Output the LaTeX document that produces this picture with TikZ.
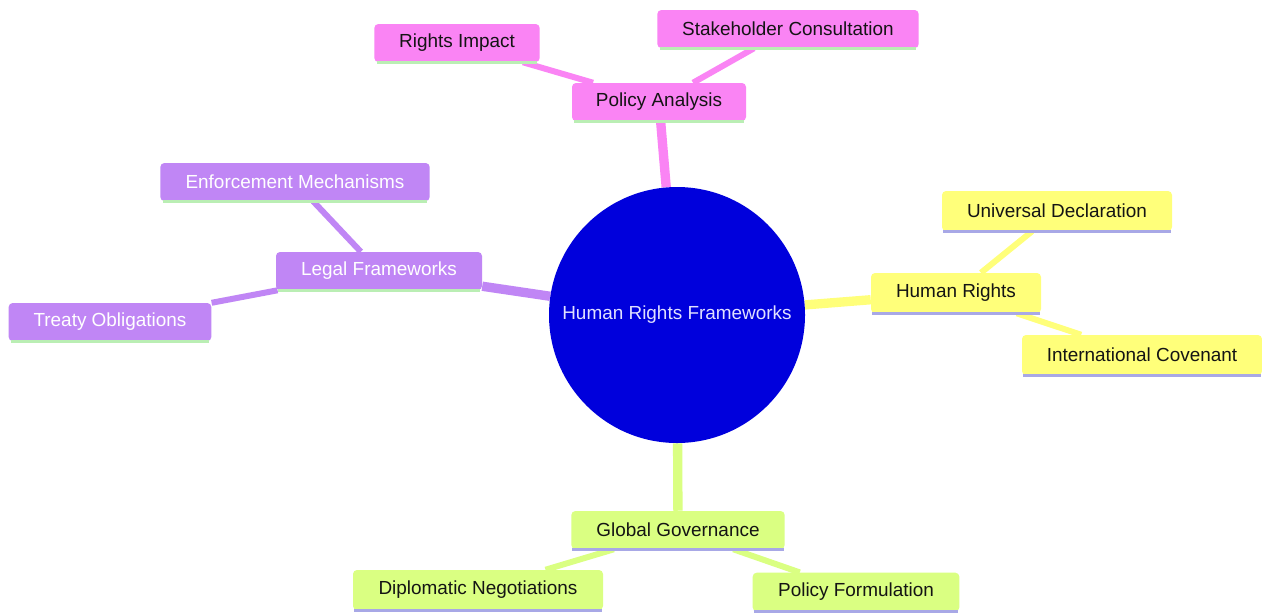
\documentclass[tikz,border=0pt]{standalone}
\usepackage{fontspec}
\setmainfont{Liberation Sans}
\usetikzlibrary{backgrounds}
\definecolor{cpink}{RGB}{250,132,244}
\definecolor{cpurple}{RGB}{192,134,245}
\definecolor{cyellow}{RGB}{255,255,122}
\definecolor{clime}{RGB}{218,255,130}
\definecolor{cblue}{RGB}{0,0,220}
\definecolor{cgreenline}{RGB}{186,238,180}
\definecolor{clavline}{RGB}{168,168,230}
\definecolor{ctext}{RGB}{20,20,20}
\tikzset{
  mbox/.style={rectangle, rounded corners=3pt, inner sep=0pt, font=\fontsize{14.2}{16}\selectfont, text=ctext},
  pinkbox/.style={mbox, fill=cpink},
  purplebox/.style={mbox, fill=cpurple, text=white},
  yellowbox/.style={mbox, fill=cyellow},
  limebox/.style={mbox, fill=clime},
  bline/.style={line width=2pt},
  edgeA/.style={line width=7pt},
  edgeB/.style={line width=4.5pt},
}
\begin{document}
\begin{tikzpicture}[x=0.75pt,y=-0.75pt]
\useasboundingbox (0,0) rectangle (1262,612);
% root
\node[circle, fill=cblue, minimum size=192pt, inner sep=0pt, text={rgb,255:red,225;green,225;blue,255}, font=\fontsize{14.2}{16}\selectfont] (root) at (677,315) {Human Rights Frameworks};
% pink
\node[pinkbox, minimum width=130.5pt, minimum height=28.5pt] (pa) at (659,102) {Policy Analysis};
\node[pinkbox, minimum width=124pt, minimum height=28.5pt] (ri) at (457,43) {Rights Impact};
\node[pinkbox, minimum width=196pt, minimum height=28.5pt] (sc) at (788,29) {Stakeholder Consultation};
% purple
\node[purplebox, minimum width=154.5pt, minimum height=28.5pt] (lf) at (379,271) {Legal Frameworks};
\node[purplebox, minimum width=202pt, minimum height=28.5pt] (em) at (295,182) {Enforcement Mechanisms};
\node[purplebox, minimum width=152pt, minimum height=28.5pt] (to) at (110,322) {Treaty Obligations};
% yellow
\node[yellowbox, minimum width=127.5pt, minimum height=30pt] (hr) at (956,293) {Human Rights};
\node[yellowbox, minimum width=172.5pt, minimum height=30pt] (ud) at (1057,211) {Universal Declaration};
\node[yellowbox, minimum width=180pt, minimum height=30pt] (ic) at (1142,355) {International Covenant};
% lime
\node[limebox, minimum width=160pt, minimum height=28.5pt] (gg) at (678,530) {Global Governance};
\node[limebox, minimum width=187.5pt, minimum height=30pt] (dn) at (478,590) {Diplomatic Negotiations};
\node[limebox, minimum width=155pt, minimum height=29pt] (pf) at (856,592) {Policy Formulation};
% bottom lines
\foreach \n in {pa,ri,sc,lf,em,to}{\draw[bline, cgreenline] ([xshift=2pt]\n.south west) -- ([xshift=-2pt]\n.south east);}
\foreach \n in {hr,ud,ic,gg,dn,pf}{\draw[bline, clavline] ([xshift=1pt]\n.south west) -- ([xshift=-1pt]\n.south east);}
\begin{pgfonlayer}{background}
\fill[white] (0,0) rectangle (1262,612);
\draw[edgeA, cpink] (root) -- (pa);
\draw[edgeB, cpink] (pa) -- (ri);
\draw[edgeB, cpink] (pa) -- (sc);
\draw[edgeA, cpurple] (root) -- (lf);
\draw[edgeB, cpurple] (lf) -- (em);
\draw[edgeB, cpurple] (lf) -- (to);
\draw[edgeA, cyellow] (root) -- (hr);
\draw[edgeB, cyellow] (hr) -- (ud);
\draw[edgeB, cyellow] (hr) -- (ic);
\draw[edgeA, clime] (root) -- (gg);
\draw[edgeB, clime] (gg) -- (dn);
\draw[edgeB, clime] (gg) -- (pf);
\end{pgfonlayer}
\end{tikzpicture}
\end{document}
